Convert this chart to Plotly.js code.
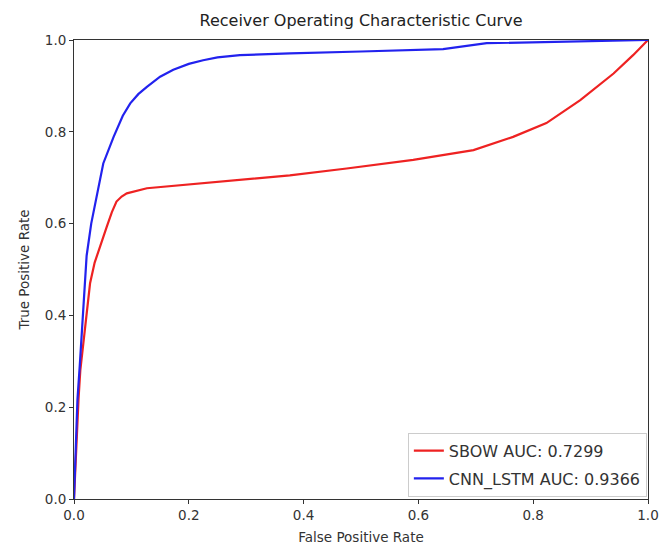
<!DOCTYPE html>
<html>
<head>
<meta charset="utf-8">
<script src="https://cdn.plot.ly/plotly-3.0.1.min.js"></script>
<style>body{margin:0;padding:0;background:#fff;}#chart{width:661px;height:552px;}</style>
</head>
<body>
<div id="chart"></div>
<script>
const sbowName = "SBOW AUC: 0.7299";
const cnnName = "CNN_LSTM AUC: 0.9366";

const sbowFpr = [0, 0.004, 0.008, 0.011, 0.016, 0.022, 0.028, 0.036, 0.045, 0.057, 0.066, 0.074, 0.083, 0.092, 0.127, 0.18, 0.231, 0.3, 0.376, 0.475, 0.591, 0.696, 0.765, 0.823, 0.882, 0.94, 0.974, 1.0];
const sbowTpr = [0, 0.12, 0.22, 0.28, 0.34, 0.397, 0.47, 0.515, 0.55, 0.593, 0.625, 0.648, 0.659, 0.666, 0.677, 0.683, 0.688, 0.695, 0.705, 0.72, 0.739, 0.76, 0.789, 0.819, 0.869, 0.927, 0.967, 1.0];

const cnnFpr = [0, 0.003, 0.006, 0.01, 0.015, 0.022, 0.03, 0.038, 0.051, 0.069, 0.085, 0.098, 0.112, 0.127, 0.15, 0.173, 0.2, 0.225, 0.25, 0.289, 0.376, 0.5, 0.643, 0.719, 0.85, 1.0];
const cnnTpr = [0, 0.1, 0.216, 0.29, 0.397, 0.53, 0.6, 0.651, 0.731, 0.789, 0.835, 0.862, 0.882, 0.898, 0.92, 0.935, 0.948, 0.956, 0.962, 0.967, 0.971, 0.975, 0.98, 0.993, 0.996, 1.0];

const traces = [
  {x: sbowFpr, y: sbowTpr, name: sbowName, legendgroup: 'a', type: 'scatter', mode: 'lines', line: {color: '#ee2222', width: 2.2}},
  {x: cnnFpr, y: cnnTpr, name: cnnName, legendgroup: 'b', type: 'scatter', mode: 'lines', line: {color: '#2222ee', width: 2.2}}
];

const axisCommon = {
  showgrid: false, zeroline: false, showline: true, mirror: true,
  linecolor: '#333', linewidth: 1, ticks: 'outside', ticklen: 4, tickcolor: '#333',
  tickfont: {size: 13.5, color: '#333'}, tickformat: '.1f', dtick: 0.2
};

const layout = {
  width: 661, height: 552,
  margin: {l: 74, r: 13, t: 40, b: 53},
  paper_bgcolor: '#fff', plot_bgcolor: '#fff',
  font: {family: 'DejaVu Sans, sans-serif', color: '#333'},
  title: {text: 'Receiver Operating Characteristic Curve', font: {size: 16, color: '#222'}, x: 0.5, xanchor: 'center', y: 0.963, yanchor: 'middle', xref: 'paper'},
  xaxis: Object.assign({}, axisCommon, {range: [0, 1], title: {text: 'False Positive Rate', font: {size: 13.5, color: '#333'}, standoff: 10}}),
  yaxis: Object.assign({}, axisCommon, {range: [0, 1], title: {text: 'True Positive Rate', font: {size: 13.5, color: '#333'}, standoff: 12}}),
  showlegend: true,
  legend: {x: 0.998, xanchor: 'right', y: 0.005, yanchor: 'bottom', traceorder: 'grouped', tracegroupgap: 4, bordercolor: '#ccc', borderwidth: 1, bgcolor: 'rgba(255,255,255,0.9)', font: {size: 16, color: '#333'}}
};

Plotly.newPlot('chart', traces, layout, {displayModeBar: false, staticPlot: true});
</script>
</body>
</html>
